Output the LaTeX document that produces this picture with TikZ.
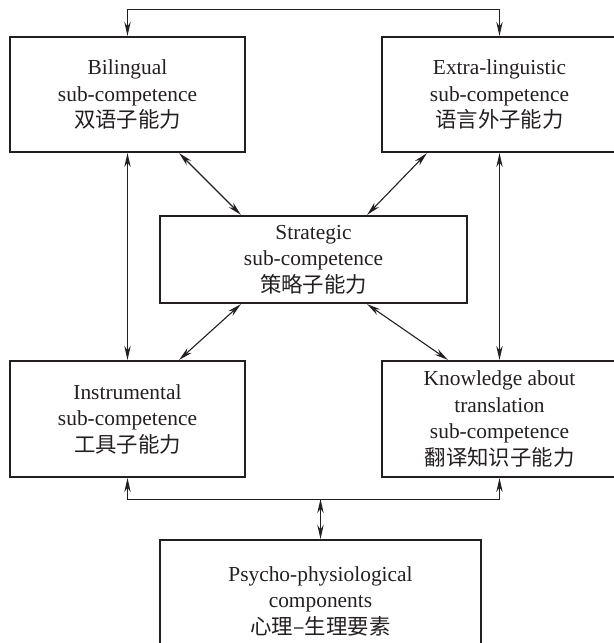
\documentclass[tikz,border=0pt]{standalone}
\usepackage{fontspec}
\setmainfont{Liberation Serif}
\newfontfamily\cjk{Noto Sans CJK SC}
\usetikzlibrary{arrows.meta,calc}
\definecolor{ink}{HTML}{231F20}

\begin{document}
\begin{tikzpicture}[x=0.5pt,y=-0.5pt,color=ink,
  box/.style={draw,line width=1.1pt,align=center,inner sep=0pt,
    font=\fontsize{10.7}{13.25}\selectfont},
  side/.style={box,minimum width=117.5pt,minimum height=57.5pt},
  link/.style={line width=0.55pt,{Stealth[length=7pt,width=3.2pt]}-{Stealth[length=7pt,width=3.2pt]}}]
 \useasboundingbox (0,0) rectangle (614,643);
  \draw (127.5,94.5) node[side] (bil) {Bilingual\\sub-competence\\{\cjk 双语子能力}};
  \draw (499.5,94.5) node[side] (ext) {Extra-linguistic\\sub-competence\\{\cjk 语言外子能力}};
  \draw (313.5,259.5) node[box,minimum width=153.5pt,minimum height=43.5pt] (str) {Strategic\\sub-competence\\{\cjk 策略子能力}};
  \draw (127.5,419) node[side,minimum height=58pt] (ins) {Instrumental\\sub-competence\\{\cjk 工具子能力}};
  \draw (499.5,419) node[side,minimum height=58pt] (kno) {Knowledge about\\translation\\sub-competence\\{\cjk 翻译知识子能力}};
  \draw (320.5,601) node[box,minimum width=160.5pt,minimum height=61pt] (psy) {Psycho-physiological\\components\\{\cjk 心理–生理要素}};

  % top and bottom buses
  \coordinate (top) at ($(bil.north)+(0,-26)$);
  \coordinate (bus) at ($(ins.south)+(0,21)$);
  \draw[link] (bil.north) -- (top) -| (ext.north);
  \draw[link] (ins.south) -- (bus) -| (kno.south);
  \draw[link] (psy.north) -- (psy.north |- bus);

  \path[link] (bil.south) edge (ins.north);
  \path[link] (ext.south) edge (kno.north);
  \path[link] ($(bil.south east)+(-67,0)$) edge ($(str.north west)+(82,0)$);
  \path[link] ($(ext.south west)+(46,0)$) edge ($(str.north east)+(-101,0)$);
  \path[link] ($(str.south west)+(82,0)$) edge ($(ins.north east)+(-67,0)$);
  \path[link] ($(str.south east)+(-101,0)$) edge ($(kno.north west)+(67,0)$);
\end{tikzpicture}
\end{document}
